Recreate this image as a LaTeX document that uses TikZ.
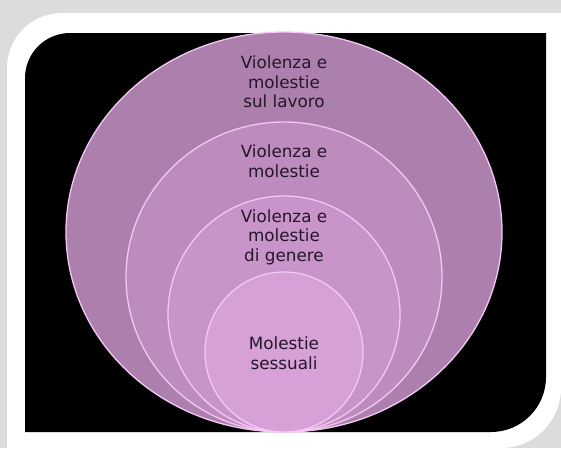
\documentclass[tikz,border=0pt]{standalone}
\usepackage{fontspec}
\setmainfont{DejaVu Sans}
\usepackage{xcolor}
\usepackage{tikz}

\definecolor{ringA}{HTML}{AD7FAD}
\definecolor{ringB}{HTML}{BE8BBE}
\definecolor{ringC}{HTML}{C994C9}
\definecolor{ringD}{HTML}{D7A0D7}
\definecolor{rim}{HTML}{F3C8F3}
\definecolor{ink}{HTML}{24172A}
\definecolor{backdrop}{HTML}{DCDCDC}

\begin{document}
\begin{tikzpicture}[x=1pt,y=-1pt,
    ringtext/.style={align=center,text=ink,font=\fontsize{16.8}{19.5}\selectfont}]
    \useasboundingbox (0,0) rectangle (561,448);

    % Backdrop and frame
    \fill[backdrop] (0,0) rectangle (561,448);
    \fill[white] (7,448) -- (7,68) arc(180:270:55) -- (561,13) -- (561,388) arc(0:90:60) -- cycle;
    \fill[black] (25,432) -- (25,78) arc(180:270:45) -- (546,33) -- (546,377) arc(0:90:55) -- cycle;

    % Nested rings, all touching at the bottom
    \foreach \cy/\rx/\ry/\col in {232/218/200/ringA, 277/158/155/ringB, 314/116/118/ringC, 352/79/80/ringD} {
        \filldraw[fill=\col,draw=rim,line width=1.3pt]
            (284,\cy) ellipse [x radius=\rx, y radius=\ry];
    }

    % Labels
    \node[ringtext] (work) at (284,82) {Violenza e\\molestie\\sul lavoro};
    \node[ringtext] (violence) at (284,161) {Violenza e\\molestie};
    \node[ringtext] (gender) at (284,237) {Violenza e\\molestie\\di genere};
    \node[ringtext] (sexual) at (284,353) {Molestie\\sessuali};
\end{tikzpicture}
\end{document}
